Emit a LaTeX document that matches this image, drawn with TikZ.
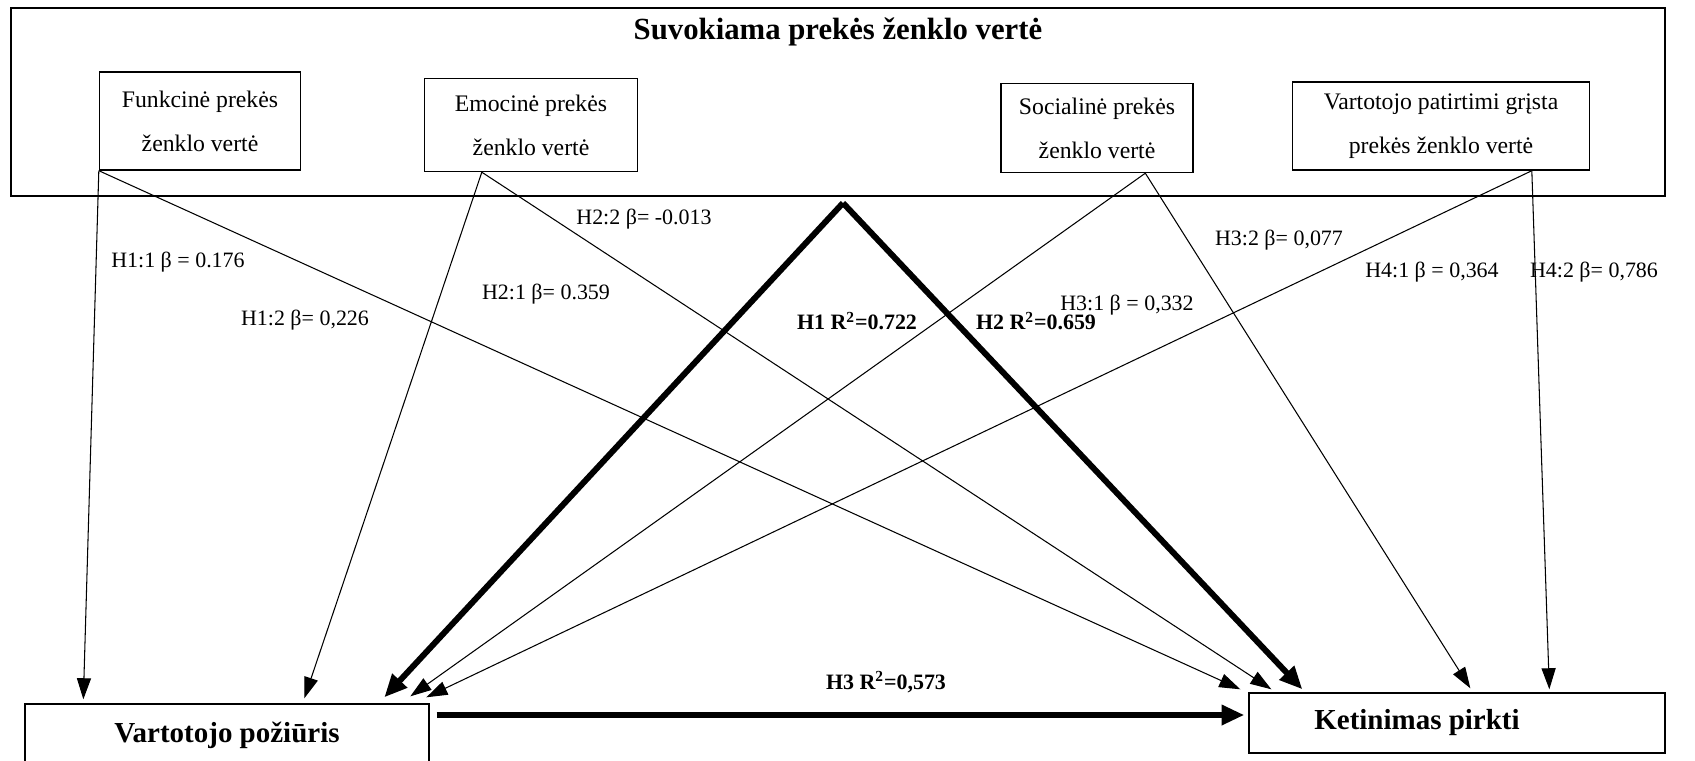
\documentclass[tikz,border=0pt]{standalone}
\usepackage{fontspec}
\setmainfont{Liberation Serif}
\usetikzlibrary{arrows.meta,positioning}

\begin{document}
\begin{tikzpicture}[x=0.02cm, y=-0.02cm,
		dimbox/.style={draw, line width=0.8pt, align=center, font=\fontsize{13.5}{25}\selectfont},
		endbox/.style={draw, line width=0.8pt},
		coef/.style={font=\fontsize{12.5}{14}\selectfont},
		rsq/.style={font=\fontsize{12.5}{14}\bfseries\selectfont},
		effect/.style={line width=0.6pt, -{Triangle[length=12pt,width=8pt]}},
		strong/.style={line width=3.4pt, -{Triangle[length=13pt,width=11pt]}}]
				\useasboundingbox (0,0) rectangle (1695,761);
				\node[endbox, minimum width=33.08cm, minimum height=3.76cm] (pbv) at (838,102) {};
				\node[font=\fontsize{17.5}{20}\bfseries\selectfont] (pbv_t) at (838,32) {Suvokiama prekės ženklo vertė};
				\node[dimbox, minimum width=4.02cm, minimum height=1.96cm] (funk) at (200,121) {Funkcinė prekės \\ ženklo vertė};
				\node[dimbox, minimum width=4.26cm, minimum height=1.86cm] (emo) at (531,125) {Emocinė prekės \\ ženklo vertė};
				\node[dimbox, minimum width=3.84cm, minimum height=1.78cm] (soc) at (1097,128) {Socialinė prekės \\ ženklo vertė};
				\node[dimbox, minimum width=5.94cm, minimum height=1.76cm] (vpg) at (1441,126) {Vartotojo patirtimi grįsta \\ prekės ženklo vertė};
				\node[endbox, minimum width=8.08cm, minimum height=1.24cm] (vp) at (227,735) {};
				\node[font=\fontsize{16.5}{20}\bfseries\selectfont] (vp_t) at (vp.center) {Vartotojo požiūris};
				\node[endbox, minimum width=8.32cm, minimum height=1.2cm] (ket) at (1457,723) {};
				\node[font=\fontsize{16.5}{20}\bfseries\selectfont] (ket_t) [left=40 of ket.center, anchor=center] {Ketinimas pirkti};
				\coordinate (apex) at (843,203);
				
				\path[effect]
				(funk.south west) edge ([shift={(59,-4)}]vp.north west)
				(funk.south west) edge ([shift={(-8,-3)}]ket.north west)
				([shift={(58,0)}]emo.south west) edge ([shift={(280,-5)}]vp.north west)
				([shift={(58,0)}]emo.south west) edge ([shift={(23,-3)}]ket.north west)
				([shift={(145,0)}]soc.south west) edge ([shift={(386,-7)}]vp.north west)
				([shift={(145,0)}]soc.south west) edge ([shift={(222,-4)}]ket.north west)
				([shift={(240,0)}]vpg.south west) edge ([shift={(402,-6)}]vp.north west)
				([shift={(240,0)}]vpg.south west) edge ([shift={(301,-3)}]ket.north west)
				;
				\path[strong]
				(apex) edge ([shift={(360,-6)}]vp.north west)
				(apex) edge ([shift={(54,-3)}]ket.north west)
				([shift={(7,-20)}]vp.east) edge [line width=3.8pt] ([shift={(-4,-8)}]ket.west)
				;
				
				\node[coef] (l11) at (178,262) {H1:1 β = 0.176};
				\node[coef] (l12) at (305,320) {H1:2 β= 0,226};
				\node[coef] (l21) at (546,294) {H2:1 β= 0.359};
				\node[coef] (l22) at (644,219) {H2:2 β= -0.013};
				\node[coef] (l31) at (1127,305) {H3:1 β = 0,332};
				\node[coef] (l32) at (1279,240) {H3:2 β= 0,077};
				\node[coef] (l41) at (1432,272) {H4:1 β = 0,364};
				\node[coef] (l42) at (1594,272) {H4:2 β= 0,786};
				\node[rsq] (r1) at (857,321) {H1 R\textsuperscript{2}=0.722};
				\node[rsq] (r2) at (1036,321) {H2 R\textsuperscript{2}=0.659};
				\node[rsq] (r3) at (886,682) {H3 R\textsuperscript{2}=0,573};
			\end{tikzpicture}
\end{document}
